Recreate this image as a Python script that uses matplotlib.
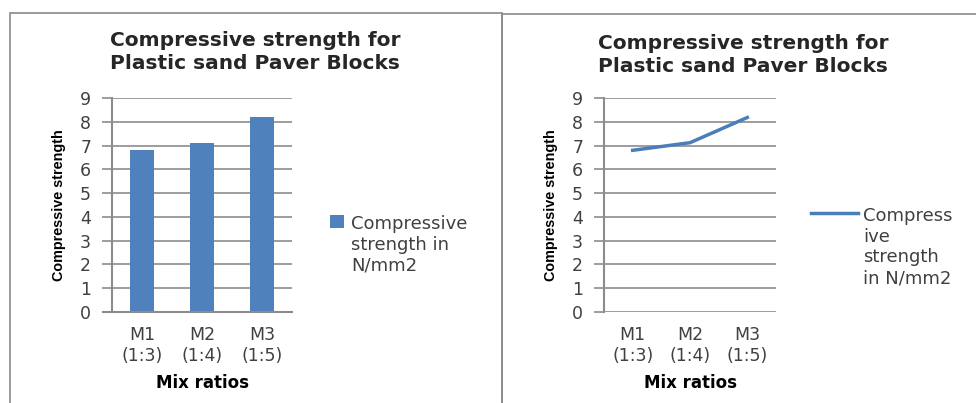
import matplotlib
matplotlib.use("Agg")
import matplotlib.pyplot as plt
from matplotlib import font_manager
from matplotlib.patches import Rectangle

# data
mixes = ["M1\n(1:3)", "M2\n(1:4)", "M3\n(1:5)"]
strength = [6.8, 7.12, 8.18]
y_ticks = list(range(0, 10))
title = "Compressive strength for\nPlastic sand Paver Blocks"
y_label = "Compressive strength"
x_label = "Mix ratios"
bar_label = "Compressive\nstrength in\nN/mm2"
line_label = "Compress\nive\nstrength\nin N/mm2"

W, H = 976, 403
BLUE = "#4F81BD"
GRID = "#8c8c8c"
TXT = "#404040"

# narrow bold face for the y label, if there is one
try:
    font_manager.findfont("Liberation Sans Narrow", fallback_to_default=False)
    NARROW, NARROW_SIZE = "Liberation Sans Narrow", 12.6
except ValueError:
    NARROW, NARROW_SIZE = "Liberation Sans", 10.4

fig = plt.figure(figsize=(W / 100, H / 100), dpi=100)
fig.patch.set_facecolor("white")


def px_axes(x0, x1, ytop, ybot):
    return fig.add_axes([x0 / W, (H - ybot) / H, (x1 - x0) / W, (ybot - ytop) / H])


# panel frames
fig.add_artist(Rectangle((10 / W, -0.05), (502 - 10) / W, (H - 13) / H + 0.05,
                         transform=fig.transFigure, fill=False, ec="#8a8a8a", lw=1.2))
fig.add_artist(Rectangle((502 / W, -0.05), 0.6, (H - 14) / H + 0.05,
                         transform=fig.transFigure, fill=False, ec="#8a8a8a", lw=1.2))


def style(ax):
    ax.set_ylim(0, 9)
    ax.set_yticks(y_ticks)
    ax.set_xlim(-0.5, len(mixes) - 0.5)
    ax.set_xticks(range(len(mixes)))
    ax.set_xticklabels(mixes, fontsize=12.5, color=TXT, linespacing=1.25)
    ax.yaxis.grid(True, color=GRID, lw=1.2)
    ax.set_axisbelow(True)
    for s in ("top", "right", "bottom"):
        ax.spines[s].set_visible(False)
    ax.spines["left"].set_color(GRID)
    ax.spines["left"].set_linewidth(1.5)
    ax.tick_params(axis="y", length=7, color=GRID, width=1.2, pad=8,
                   labelsize=12.5, labelcolor=TXT)
    ax.tick_params(axis="x", length=0, pad=10)
    ax.set_ylabel(y_label, fontsize=NARROW_SIZE, fontweight="bold",
                  family=NARROW, labelpad=10)
    ax.set_xlabel(x_label, fontsize=12, fontweight="bold", labelpad=6)


def legend_top(leg):
    # put the handle level with the first line of the label
    for col in leg._legend_handle_box.get_children():
        for item in col.get_children():
            item.align = "top"


# left: bar chart
ax1 = px_axes(112, 292, 98, 312)
ax1.bar(range(len(mixes)), strength, width=0.4, color=BLUE, label=bar_label)
style(ax1)
ax1.axhline(0, color=GRID, lw=1.5, xmin=-0.05, clip_on=False)
fig.text(255 / W, 1 - 52 / H, title, ha="center", va="center", ma="center",
         fontsize=14.5, fontweight="bold", color="#262626", linespacing=1.25)
leg1 = ax1.legend(loc="center left", bbox_to_anchor=(330 / W, 1 - 245 / H),
                  bbox_transform=fig.transFigure, frameon=False, fontsize=13,
                  labelcolor=TXT, handlelength=0.75, handleheight=0.75,
                  handletextpad=0.4, borderaxespad=0, borderpad=0)
legend_top(leg1)

# right: line chart
ax2 = px_axes(604, 776, 98, 312)
ax2.plot(range(len(mixes)), strength, color="#4A7EBB", lw=2.5, label=line_label)
style(ax2)
fig.text(743 / W, 1 - 55 / H, title, ha="center", va="center", ma="center",
         fontsize=14.5, fontweight="bold", color="#262626", linespacing=1.25)
leg2 = ax2.legend(loc="center left", bbox_to_anchor=(811 / W, 1 - 247 / H),
                  bbox_transform=fig.transFigure, frameon=False, fontsize=13,
                  labelcolor=TXT, handlelength=2.6, handletextpad=0.3,
                  borderaxespad=0, borderpad=0)
legend_top(leg2)

fig.savefig("out.png", dpi=100, facecolor="white")
